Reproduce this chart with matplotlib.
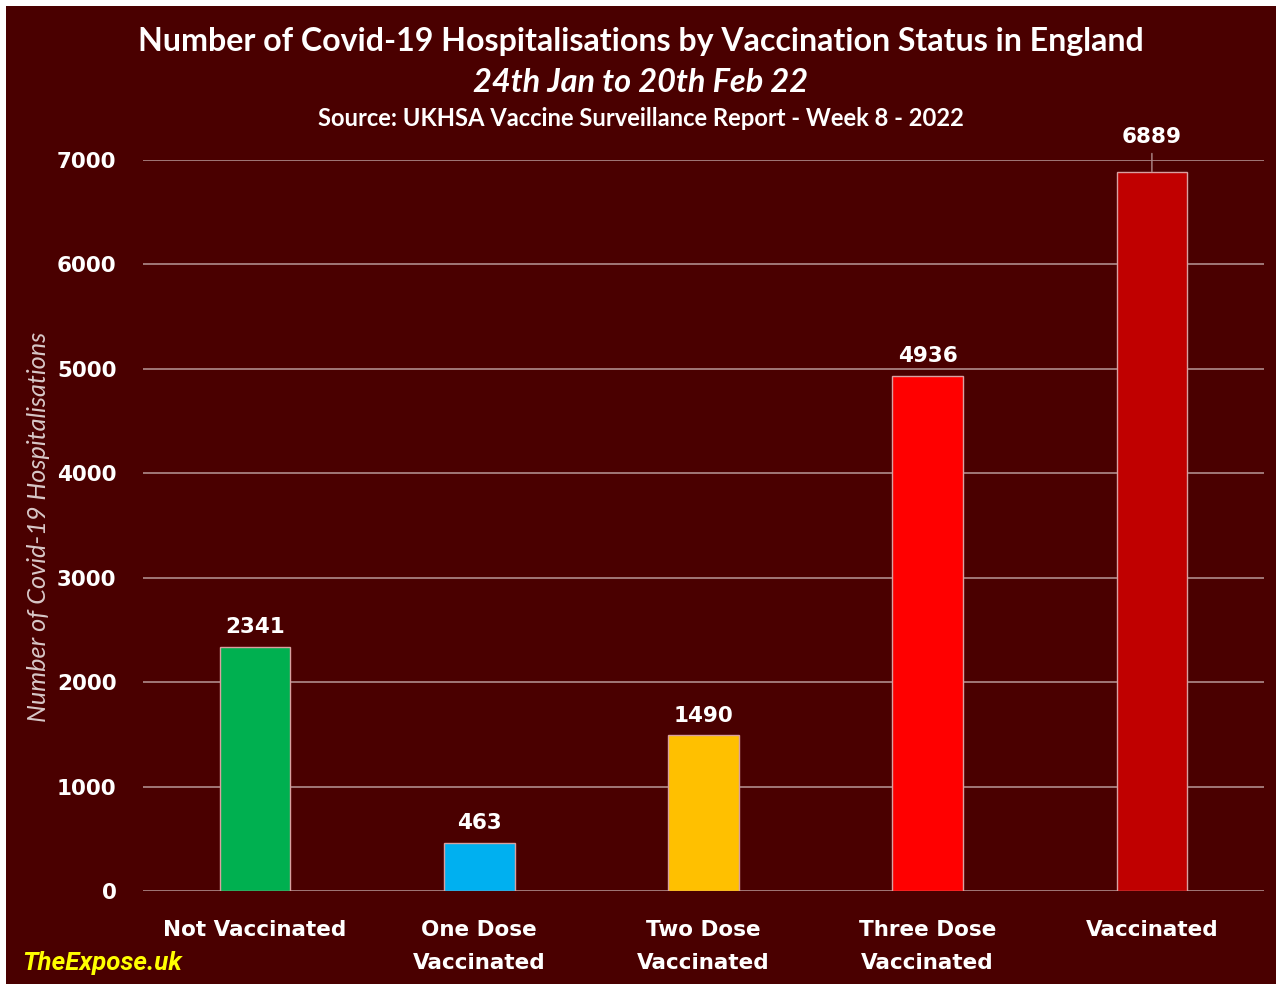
import matplotlib
matplotlib.use("Agg")
import matplotlib.pyplot as plt
from matplotlib.patches import Rectangle

categories = ["Not Vaccinated", "One Dose\nVaccinated", "Two Dose\nVaccinated", "Three Dose\nVaccinated", "Vaccinated"]
values = [2341, 463, 1490, 4936, 6889]
bar_colors = ["#00b050", "#00b0f0", "#ffc000", "#ff0000", "#c00000"]
yticks = [0, 1000, 2000, 3000, 4000, 5000, 6000, 7000]

BG = "#4a0000"
TICKFONT = ["DejaVu Sans"]
TITLEFONT = ["Lato", "Open Sans", "DejaVu Sans"]
plt.rcParams["font.family"] = TICKFONT

fig = plt.figure(figsize=(12.76, 9.84), dpi=100, facecolor="white")
W, H = 1276, 984
fig.patches.append(Rectangle((6 / W, 0), 1 - 6 / W, 1 - 6 / H, transform=fig.transFigure,
                             facecolor=BG, edgecolor="none", zorder=-10))

ax = fig.add_axes([143 / W, 1 - 891 / H, (1264 - 143) / W, (891 - 160) / H])
ax.set_facecolor(BG)
x = list(range(len(categories)))
ax.bar(x, values, width=0.315, color=bar_colors, edgecolor="#d9a0a0", linewidth=1.0, zorder=3)
ax.set_xlim(-0.5, 4.5)
ax.set_ylim(0, 7000)
ax.set_yticks(yticks)
ax.set_yticklabels([str(t) for t in yticks], fontsize=15.5, fontweight="bold", color="white")
ax.set_xticks(x)
ax.set_xticklabels(categories, fontsize=15.5, fontweight="bold", color="white", linespacing=1.8)
ax.tick_params(axis="both", length=0)
ax.tick_params(axis="y", pad=19)
ax.tick_params(axis="x", pad=21)
ax.grid(axis="y", color="#b08c8c", linewidth=1.2, zorder=0)
for s in ax.spines.values():
    s.set_visible(False)

for i, v in enumerate(values):
    if i == len(values) - 1:
        ax.annotate(str(v), xy=(i, v), xytext=(i, v + 240), ha="center", va="bottom",
                    fontsize=15.5, fontweight="bold", color="white",
                    arrowprops=dict(arrowstyle="-", color="#b08c8c", lw=1.0, shrinkA=3, shrinkB=0),
                    annotation_clip=False)
    else:
        ax.text(i, v + 90, str(v), ha="center", va="bottom", fontsize=15.5, fontweight="bold",
                color="white", zorder=4)

ylab = fig.text(39 / W, 1 - 527 / H, "Number of Covid-19 Hospitalisations", rotation=90,
                ha="center", va="center", fontsize=16, style="italic", color="#d8c8c8",
                family=TITLEFONT)

t1 = fig.text(641 / W, 1 - 41 / H, "Number of Covid-19 Hospitalisations by Vaccination Status in England",
              ha="center", va="center", fontsize=22, fontweight="bold", color="white", family=TITLEFONT)
t2 = fig.text(641 / W, 1 - 82 / H, "24th Jan to 20th Feb 22", ha="center", va="center",
              fontsize=22, fontweight="bold", style="italic", color="white", family=TITLEFONT)
t3 = fig.text(641 / W, 1 - 119 / H, "Source: UKHSA Vaccine Surveillance Report - Week 8 - 2022",
              ha="center", va="center", fontsize=16, fontweight="bold", color="white", family=TITLEFONT)
wm = fig.text(22 / W, 1 - 963 / H, "TheExpose.uk", ha="left", va="center", fontsize=16,
              fontweight="bold", style="italic", color="#ffff00", family=["Roboto", "DejaVu Sans"])

fig.canvas.draw()
r = fig.canvas.get_renderer()
for t, target, horiz in [(t1, 1003, True), (t2, 335, True), (t3, 650, True), (ylab, 390, False), (wm, 160, True)]:
    bb = t.get_window_extent(r)
    cur = bb.width if horiz else bb.height
    t.set_fontsize(t.get_fontsize() * target / cur)

fig.savefig("out.png", dpi=100, facecolor=fig.get_facecolor())
